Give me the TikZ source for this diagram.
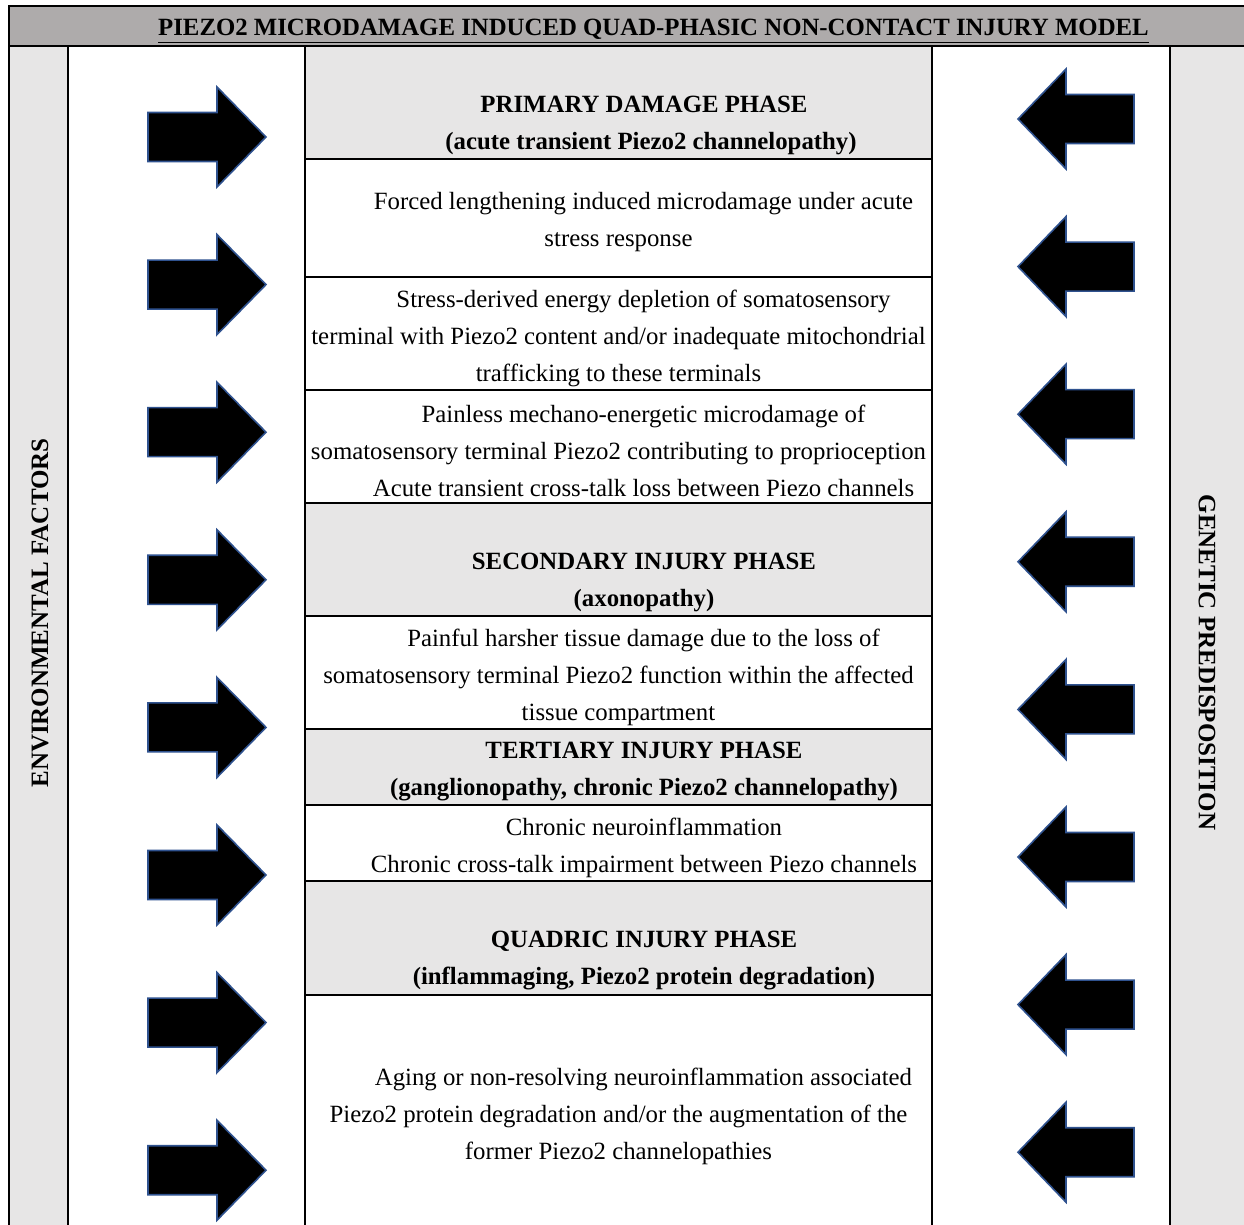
\documentclass[tikz,border=0pt]{standalone}
\usepackage{fontspec}
\setmainfont{Liberation Serif}
\definecolor{tgrey}{HTML}{AEABAB}
\definecolor{lgrey}{HTML}{E7E6E6}
\definecolor{aline}{HTML}{2F528F}
\tikzset{
  gridline/.style={line width=1pt, draw=black},
  txt/.style={align=center, font=\fontsize{12.4}{18.5}\selectfont, inner sep=0pt},
  headtxt/.style={align=center, font=\fontsize{12.4}{18.5}\selectfont\bfseries, inner sep=0pt},
  sidetxt/.style={font=\fontsize{12.5}{14}\selectfont\bfseries, inner sep=0pt},
  arrowshape/.style={fill=black, draw=aline, line width=0.8pt, line join=miter},
  rarr/.pic={\draw[arrowshape] (-59,-24.5) -- (10,-24.5) -- (10,-50) -- (59,0) -- (10,50) -- (10,24.5) -- (-59,24.5) -- cycle;},
  larr/.pic={\draw[arrowshape] (58,-24.5) -- (-10,-24.5) -- (-10,-50) -- (-58,0) -- (-10,50) -- (-10,24.5) -- (58,24.5) -- cycle;}
}
\begin{document}
\begin{tikzpicture}[x=0.5pt,y=-0.5pt]
\useasboundingbox (0,0) rectangle (1244,1225);
\clip (0,0) rectangle (1244,1225);
\fill[white] (0,0) rectangle (1244,1225);
% column fills
\fill[lgrey] (9,46) rectangle (68,1240);
\fill[lgrey] (1170,46) rectangle (1260,1240);
\fill[lgrey] (305,46) rectangle (932,159);
\fill[lgrey] (305,503) rectangle (932,616);
\fill[lgrey] (305,729) rectangle (932,805);
\fill[lgrey] (305,881) rectangle (932,995);
% title band
\filldraw[fill=tgrey, gridline] (9,1240) -- (9,6) -- (1260,6) -- (1260,46) -- (9,46);
% vertical lines
\foreach \xx in {68,305,932,1170} \draw[gridline] (\xx,46) -- (\xx,1240);
% horizontal lines in middle column
\foreach \yy in {159,277,390,503,616,729,805,881,995} \draw[gridline] (305,\yy) -- (932,\yy);
% title
\node[headtxt] (title) at (653.5,31) {\underline{PIEZO2 MICRODAMAGE INDUCED QUAD-PHASIC NON-CONTACT INJURY MODEL}};
% side labels
\node[sidetxt, rotate=90] (env) at (40,613) {ENVIRONMENTAL FACTORS};
\node[sidetxt, rotate=-90] (gen) at (1207,662.5) {GENETIC PREDISPOSITION};
% arrows
\foreach \i in {0,...,7} {
  \pic at (207,137+147.6*\i) {rarr};
  \pic at (1076,119+147.6*\i) {larr};
}
% middle column texts
\node[headtxt] (p1) at (644,125.5) {PRIMARY DAMAGE PHASE\\\hspace*{7pt}(acute transient Piezo2 channelopathy)};
\node[txt] (p2) at (618.5,222.5) {\hspace*{25pt}Forced lengthening induced microdamage under acute\\stress response};
\node[txt] (p3) at (618.5,338) {\hspace*{25pt}Stress-derived energy depletion of somatosensory\\terminal with Piezo2 content and/or inadequate mitochondrial\\trafficking to these terminals};
\node[txt] (p4) at (618.5,451) {\hspace*{25pt}Painless mechano-energetic microdamage of\\somatosensory terminal Piezo2 contributing to proprioception\\\hspace*{25pt}Acute transient cross-talk loss between Piezo channels};
\node[headtxt] (p5) at (644,582.5) {SECONDARY INJURY PHASE\\(axonopathy)};
\node[txt] (p6) at (618.5,677) {\hspace*{25pt}Painful harsher tissue damage due to the loss of\\somatosensory terminal Piezo2 function within the affected\\tissue compartment};
\node[headtxt] (p7) at (644,771.5) {TERTIARY INJURY PHASE\\(ganglionopathy, chronic Piezo2 channelopathy)};
\node[txt] (p8) at (644,847.5) {Chronic neuroinflammation\\Chronic cross-talk impairment between Piezo channels};
\node[headtxt] (p9) at (644,960.5) {QUADRIC INJURY PHASE\\(inflammaging, Piezo2 protein degradation)};
\node[txt] (p10) at (618.5,1116) {\hspace*{25pt}Aging or non-resolving neuroinflammation associated\\Piezo2 protein degradation and/or the augmentation of the\\former Piezo2 channelopathies};
\end{tikzpicture}
\end{document}
